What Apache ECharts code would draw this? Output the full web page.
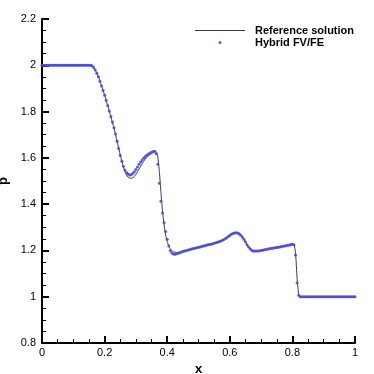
<!DOCTYPE html>
<html>
<head>
<meta charset="utf-8">
<script src="https://cdn.jsdelivr.net/npm/echarts@6/dist/echarts.min.js"></script>
<style>
  html, body { margin: 0; padding: 0; background: #fff; }
  #chart { width: 374px; height: 374px; }
</style>
</head>
<body>
<div id="chart"></div>
<script>
// reference solution (line)
var refX = [0, 0.155, 0.16, 0.165, 0.17, 0.18, 0.19, 0.2, 0.21, 0.22, 0.23, 0.24, 0.25, 0.26, 0.265, 0.27, 0.275, 0.28, 0.285, 0.29,
  0.295, 0.3, 0.31, 0.32, 0.33, 0.34, 0.35, 0.36, 0.365, 0.37, 0.375, 0.38, 0.385, 0.39, 0.395, 0.4, 0.405, 0.41, 0.415, 0.42,
  0.425, 0.43, 0.44, 0.45, 0.5, 0.55, 0.57, 0.585, 0.6, 0.61, 0.62, 0.63, 0.64, 0.65, 0.66, 0.67, 0.68, 0.7, 0.75, 0.8,
  0.805, 0.81, 0.815, 0.82, 0.825, 1];
var refP = [2, 2, 1.998, 1.99, 1.98, 1.952, 1.912, 1.872, 1.826, 1.778, 1.728, 1.672, 1.612, 1.56, 1.54, 1.526, 1.517, 1.513, 1.512, 1.514,
  1.52, 1.529, 1.552, 1.575, 1.595, 1.609, 1.619, 1.627, 1.626, 1.605, 1.54, 1.45, 1.37, 1.31, 1.267, 1.238, 1.22, 1.207, 1.199, 1.194,
  1.192, 1.191, 1.192, 1.195, 1.214, 1.231, 1.24, 1.25, 1.265, 1.273, 1.276, 1.272, 1.258, 1.237, 1.215, 1.201, 1.197, 1.2, 1.213, 1.227,
  1.226, 1.19, 1.08, 1.01, 1, 1];

// hybrid FV/FE (points)
var hybridX = [
  0, 0.005, 0.01, 0.015, 0.02, 0.025, 0.03, 0.035, 0.04, 0.045,
  0.05, 0.055, 0.06, 0.065, 0.07, 0.075, 0.08, 0.085, 0.09, 0.095,
  0.1, 0.105, 0.11, 0.115, 0.12, 0.125, 0.13, 0.135, 0.14, 0.145,
  0.15, 0.155, 0.16, 0.165, 0.17, 0.175, 0.18, 0.185, 0.19, 0.195,
  0.2, 0.205, 0.21, 0.215, 0.22, 0.225, 0.23, 0.235, 0.24, 0.245,
  0.25, 0.255, 0.26, 0.265, 0.27, 0.275, 0.28, 0.285, 0.29, 0.295,
  0.3, 0.305, 0.31, 0.315, 0.32, 0.325, 0.33, 0.335, 0.34, 0.345,
  0.35, 0.355, 0.36, 0.365, 0.37, 0.375, 0.38, 0.385, 0.39, 0.395,
  0.4, 0.405, 0.41, 0.415, 0.42, 0.425, 0.43, 0.435, 0.44, 0.445,
  0.45, 0.455, 0.46, 0.465, 0.47, 0.475, 0.48, 0.485, 0.49, 0.495,
  0.5, 0.505, 0.51, 0.515, 0.52, 0.525, 0.53, 0.535, 0.54, 0.545,
  0.55, 0.555, 0.56, 0.565, 0.57, 0.575, 0.58, 0.585, 0.59, 0.595,
  0.6, 0.605, 0.61, 0.615, 0.62, 0.625, 0.63, 0.635, 0.64, 0.645,
  0.65, 0.655, 0.66, 0.665, 0.67, 0.675, 0.68, 0.685, 0.69, 0.695,
  0.7, 0.705, 0.71, 0.715, 0.72, 0.725, 0.73, 0.735, 0.74, 0.745,
  0.75, 0.755, 0.76, 0.765, 0.77, 0.775, 0.78, 0.785, 0.79, 0.795,
  0.8, 0.805, 0.81, 0.815, 0.82, 0.825, 0.83, 0.835, 0.84, 0.845,
  0.85, 0.855, 0.86, 0.865, 0.87, 0.875, 0.88, 0.885, 0.89, 0.895,
  0.9, 0.905, 0.91, 0.915, 0.92, 0.925, 0.93, 0.935, 0.94, 0.945,
  0.95, 0.955, 0.96, 0.965, 0.97, 0.975, 0.98, 0.985, 0.99, 0.995,
  1];
var hybridP = [
  2, 2, 2, 2, 2, 2, 2, 2, 2, 2,
  2, 2, 2, 2, 2, 2, 2, 2, 2, 2,
  2, 2, 2, 2, 2, 2, 2, 2, 2, 2,
  2, 2, 1.998, 1.99, 1.98, 1.966, 1.95, 1.931, 1.911, 1.891,
  1.871, 1.849, 1.826, 1.803, 1.779, 1.755, 1.73, 1.703, 1.672, 1.64,
  1.61, 1.585, 1.564, 1.548, 1.537, 1.53, 1.526, 1.527, 1.532, 1.54,
  1.55, 1.561, 1.572, 1.582, 1.591, 1.599, 1.606, 1.612, 1.617, 1.621,
  1.624, 1.627, 1.629, 1.618, 1.572, 1.49, 1.412, 1.362, 1.32, 1.282,
  1.248, 1.219, 1.199, 1.189, 1.185, 1.184, 1.186, 1.188, 1.19, 1.193,
  1.195, 1.197, 1.199, 1.201, 1.203, 1.205, 1.207, 1.208, 1.21, 1.212,
  1.214, 1.215, 1.217, 1.219, 1.22, 1.222, 1.224, 1.226, 1.227, 1.229,
  1.231, 1.233, 1.235, 1.237, 1.24, 1.243, 1.246, 1.25, 1.255, 1.26,
  1.265, 1.27, 1.273, 1.275, 1.276, 1.275, 1.272, 1.266, 1.258, 1.248,
  1.237, 1.225, 1.215, 1.207, 1.201, 1.198, 1.197, 1.197, 1.198, 1.199,
  1.2, 1.201, 1.203, 1.204, 1.205, 1.207, 1.208, 1.209, 1.21, 1.212,
  1.213, 1.214, 1.215, 1.217, 1.218, 1.219, 1.22, 1.222, 1.223, 1.225,
  1.227, 1.224, 1.18, 1.06, 1.006, 1, 1, 1, 1, 1,
  1, 1, 1, 1, 1, 1, 1, 1, 1, 1,
  1, 1, 1, 1, 1, 1, 1, 1, 1, 1,
  1, 1, 1, 1, 1, 1, 1, 1, 1, 1,
  1];

var seriesNames = ['Reference solution', 'Hybrid FV/FE'];

function pairs(xs, ys) {
  var out = [];
  for (var i = 0; i < xs.length; i++) out.push([xs[i], ys[i]]);
  return out;
}

var mychart = echarts.init(document.getElementById('chart'));
var font = 'Liberation Sans, Arial, Helvetica, sans-serif';
var black = '#000';

var option = {
  backgroundColor: '#fff',
  animation: false,
  grid: { left: 42, right: 19, top: 19, bottom: 31, outerBoundsMode: 'none', containLabel: false },
  legend: [
    {
      data: [{ name: seriesNames[0], icon: 'path://M0 0 H50 V1 H0 Z' }],
      left: 195, top: 25,
      itemWidth: 50, itemHeight: 1,
      padding: 0,
      textStyle: { color: black, fontSize: 11, fontWeight: 'bold', fontFamily: font, padding: [0, 0, 0, 5] }
    },
    {
      data: [{ name: seriesNames[1], icon: 'circle' }],
      left: 218.5, top: 37,
      itemWidth: 3, itemHeight: 3,
      padding: 0,
      textStyle: { color: black, fontSize: 11, fontWeight: 'bold', fontFamily: font, padding: [0, 0, 0, 28.5] }
    }
  ],
  xAxis: [
    {
      type: 'value', position: 'bottom',
      min: 0, max: 1, interval: 0.2,
      name: 'x', nameLocation: 'middle', nameGap: 19,
      nameTextStyle: { color: black, fontSize: 13, fontWeight: 'bold', fontFamily: font },
      axisLine: { show: true, onZero: false, lineStyle: { color: black, width: 2 } },
      axisTick: { show: true, inside: true, length: 7, lineStyle: { color: black, width: 2 } },
      splitLine: { show: false },
      axisLabel: { show: true, color: black, fontSize: 11, fontFamily: font, margin: 4 }
    },
    {
      // minor ticks
      type: 'value', position: 'bottom',
      min: 0, max: 1, interval: 0.05,
      axisLine: { show: false, onZero: false },
      axisTick: { show: true, inside: true, length: 4, lineStyle: { color: black, width: 1 } },
      splitLine: { show: false },
      axisLabel: { show: false }
    }
  ],
  yAxis: [
    {
      type: 'value', position: 'left',
      min: 0.8, max: 2.2, interval: 0.2,
      name: 'p', nameLocation: 'middle', nameGap: 29,
      nameTextStyle: { color: black, fontSize: 13, fontWeight: 'bold', fontFamily: font },
      axisLine: { show: true, onZero: false, lineStyle: { color: black, width: 2 } },
      axisTick: { show: true, inside: true, length: 7, lineStyle: { color: black, width: 2 } },
      splitLine: { show: false },
      axisLabel: { show: true, color: black, fontSize: 11, fontFamily: font, margin: 6 }
    },
    {
      // minor ticks
      type: 'value', position: 'left',
      min: 0.8, max: 2.2, interval: 0.05,
      axisLine: { show: false, onZero: false },
      axisTick: { show: true, inside: true, length: 4, lineStyle: { color: black, width: 1 } },
      splitLine: { show: false },
      axisLabel: { show: false }
    }
  ],
  series: [
    {
      name: seriesNames[0],
      type: 'line',
      data: pairs(refX, refP),
      symbol: 'none',
      smooth: 0.2,
      lineStyle: { color: '#3a3a3a', width: 1 },
      itemStyle: { color: '#3a3a3a' },
      z: 2
    },
    {
      name: seriesNames[1],
      type: 'scatter',
      data: pairs(hybridX, hybridP),
      symbol: 'circle',
      symbolSize: 3,
      itemStyle: { color: '#4b4bd6', opacity: 0.9 },
      z: 3
    }
  ]
};
mychart.setOption(option);
</script>
</body>
</html>
